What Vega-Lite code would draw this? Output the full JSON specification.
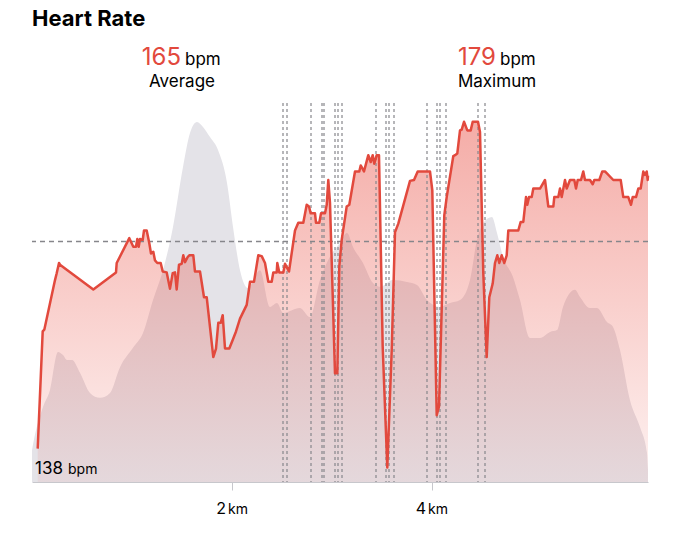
{
  "$schema": "https://vega.github.io/schema/vega-lite/v6.json",
  "width": 616,
  "height": 379,
  "autosize": {"type": "none"},
  "padding": {"top": 103, "left": 32, "right": 32, "bottom": 54},
  "background": "white",
  "title": {
    "text": "Heart Rate",
    "anchor": "start",
    "frame": "group",
    "font": "Inter",
    "fontSize": 22,
    "fontWeight": "bold",
    "color": "#000000",
    "offset": 15
  },
  "config": {"view": {"stroke": null}, "text": {"font": "Inter"}},
  "datasets": {
    "elev": [
      {"km": 0.0, "m": 8.4}, {"km": 0.013, "m": 10.3}, {"km": 0.11, "m": 19.8}, {"km": 0.18, "m": 24.3},
      {"km": 0.26, "m": 34.3}, {"km": 0.31, "m": 33.5}, {"km": 0.35, "m": 32.2}, {"km": 0.4, "m": 32.2},
      {"km": 0.48, "m": 28.8}, {"km": 0.58, "m": 23.5}, {"km": 0.68, "m": 22.2}, {"km": 0.78, "m": 23.5},
      {"km": 0.88, "m": 30.3}, {"km": 1.01, "m": 35.4}, {"km": 1.11, "m": 39.3}, {"km": 1.21, "m": 48.0},
      {"km": 1.31, "m": 55.9}, {"km": 1.41, "m": 67.3}, {"km": 1.51, "m": 83.1}, {"km": 1.58, "m": 92.1},
      {"km": 1.65, "m": 95.0}, {"km": 1.71, "m": 93.7}, {"km": 1.78, "m": 91.0}, {"km": 1.86, "m": 87.6},
      {"km": 1.95, "m": 78.9}, {"km": 2.01, "m": 67.3}, {"km": 2.08, "m": 55.9}, {"km": 2.16, "m": 51.2},
      {"km": 2.28, "m": 55.9}, {"km": 2.38, "m": 46.2}, {"km": 2.45, "m": 47.2}, {"km": 2.51, "m": 44.6},
      {"km": 2.68, "m": 45.9}, {"km": 2.78, "m": 43.5}, {"km": 2.88, "m": 53.3}, {"km": 2.98, "m": 59.4},
      {"km": 3.08, "m": 63.1}, {"km": 3.15, "m": 65.7}, {"km": 3.21, "m": 62.0}, {"km": 3.31, "m": 57.8},
      {"km": 3.41, "m": 52.5}, {"km": 3.48, "m": 51.5}, {"km": 3.61, "m": 53.3}, {"km": 3.75, "m": 52.8},
      {"km": 3.85, "m": 52.0}, {"km": 3.95, "m": 48.0}, {"km": 4.08, "m": 46.2}, {"km": 4.18, "m": 47.2},
      {"km": 4.28, "m": 48.0}, {"km": 4.38, "m": 53.3}, {"km": 4.45, "m": 63.9}, {"km": 4.51, "m": 68.3},
      {"km": 4.6, "m": 69.9}, {"km": 4.65, "m": 65.7}, {"km": 4.71, "m": 59.4}, {"km": 4.81, "m": 54.1},
      {"km": 4.88, "m": 48.0}, {"km": 4.98, "m": 38.0}, {"km": 5.08, "m": 38.0}, {"km": 5.18, "m": 39.6},
      {"km": 5.25, "m": 40.1}, {"km": 5.31, "m": 46.2}, {"km": 5.43, "m": 50.7}, {"km": 5.48, "m": 48.8},
      {"km": 5.58, "m": 45.9}, {"km": 5.65, "m": 45.9}, {"km": 5.75, "m": 42.2}, {"km": 5.81, "m": 40.9},
      {"km": 5.88, "m": 34.8}, {"km": 5.98, "m": 21.6}, {"km": 6.08, "m": 14.5}, {"km": 6.15, "m": 7.7},
      {"km": 6.16, "m": 3.2}
    ],
    "hr": [
      {"km": 0.057, "bpm": 140.8}, {"km": 0.107, "bpm": 154.5}, {"km": 0.123, "bpm": 154.7}, {"km": 0.23, "bpm": 160.5},
      {"km": 0.247, "bpm": 161.3}, {"km": 0.27, "bpm": 162.5}, {"km": 0.28, "bpm": 162.3}, {"km": 0.613, "bpm": 159.4},
      {"km": 0.84, "bpm": 161.4}, {"km": 0.847, "bpm": 162.5}, {"km": 0.973, "bpm": 165.4}, {"km": 1.013, "bpm": 164.4},
      {"km": 1.04, "bpm": 164.4}, {"km": 1.053, "bpm": 165.3}, {"km": 1.067, "bpm": 164.4}, {"km": 1.08, "bpm": 165.3},
      {"km": 1.107, "bpm": 165.2}, {"km": 1.12, "bpm": 166.3}, {"km": 1.147, "bpm": 166.3}, {"km": 1.173, "bpm": 164.8},
      {"km": 1.19, "bpm": 163.6}, {"km": 1.213, "bpm": 163.8}, {"km": 1.23, "bpm": 162.8}, {"km": 1.253, "bpm": 162.5},
      {"km": 1.287, "bpm": 162.5}, {"km": 1.307, "bpm": 161.5}, {"km": 1.347, "bpm": 161.4}, {"km": 1.38, "bpm": 159.5},
      {"km": 1.407, "bpm": 161.3}, {"km": 1.43, "bpm": 161.4}, {"km": 1.447, "bpm": 159.4}, {"km": 1.47, "bpm": 162.3},
      {"km": 1.497, "bpm": 162.4}, {"km": 1.513, "bpm": 163.4}, {"km": 1.53, "bpm": 162.6}, {"km": 1.557, "bpm": 163.2},
      {"km": 1.573, "bpm": 163.4}, {"km": 1.613, "bpm": 163.4}, {"km": 1.63, "bpm": 161.5}, {"km": 1.68, "bpm": 161.5},
      {"km": 1.72, "bpm": 158.5}, {"km": 1.747, "bpm": 158.5}, {"km": 1.813, "bpm": 151.5}, {"km": 1.84, "bpm": 152.5},
      {"km": 1.863, "bpm": 155.5}, {"km": 1.887, "bpm": 155.5}, {"km": 1.907, "bpm": 156.4}, {"km": 1.93, "bpm": 152.5},
      {"km": 1.973, "bpm": 152.5}, {"km": 2.007, "bpm": 153.5}, {"km": 2.04, "bpm": 154.5}, {"km": 2.08, "bpm": 156.0},
      {"km": 2.147, "bpm": 157.6}, {"km": 2.18, "bpm": 160.3}, {"km": 2.22, "bpm": 160.3}, {"km": 2.263, "bpm": 163.4},
      {"km": 2.297, "bpm": 163.3}, {"km": 2.33, "bpm": 162.5}, {"km": 2.363, "bpm": 160.3}, {"km": 2.397, "bpm": 160.3},
      {"km": 2.413, "bpm": 161.4}, {"km": 2.447, "bpm": 161.4}, {"km": 2.453, "bpm": 162.5}, {"km": 2.473, "bpm": 161.4},
      {"km": 2.513, "bpm": 161.4}, {"km": 2.53, "bpm": 162.4}, {"km": 2.57, "bpm": 161.5}, {"km": 2.63, "bpm": 166.3},
      {"km": 2.663, "bpm": 167.2}, {"km": 2.713, "bpm": 167.2}, {"km": 2.747, "bpm": 169.3}, {"km": 2.77, "bpm": 169.1},
      {"km": 2.787, "bpm": 168.3}, {"km": 2.83, "bpm": 168.3}, {"km": 2.84, "bpm": 167.2}, {"km": 2.873, "bpm": 167.2},
      {"km": 2.89, "bpm": 168.3}, {"km": 2.93, "bpm": 168.3}, {"km": 2.947, "bpm": 169.3}, {"km": 2.963, "bpm": 172.2},
      {"km": 2.98, "bpm": 169.5}, {"km": 3.03, "bpm": 149.6}, {"km": 3.053, "bpm": 149.6}, {"km": 3.073, "bpm": 162.1},
      {"km": 3.097, "bpm": 165.2}, {"km": 3.147, "bpm": 169.1}, {"km": 3.173, "bpm": 169.3}, {"km": 3.23, "bpm": 173.2},
      {"km": 3.273, "bpm": 173.2}, {"km": 3.287, "bpm": 173.9}, {"km": 3.32, "bpm": 173.2}, {"km": 3.363, "bpm": 175.1},
      {"km": 3.387, "bpm": 174.3}, {"km": 3.407, "bpm": 175.1}, {"km": 3.423, "bpm": 174.1}, {"km": 3.447, "bpm": 175.1},
      {"km": 3.47, "bpm": 175.1}, {"km": 3.507, "bpm": 152.7}, {"km": 3.553, "bpm": 138.6}, {"km": 3.597, "bpm": 152.3},
      {"km": 3.63, "bpm": 166.1}, {"km": 3.663, "bpm": 167.1}, {"km": 3.78, "bpm": 172.1}, {"km": 3.82, "bpm": 172.2},
      {"km": 3.857, "bpm": 173.2}, {"km": 3.98, "bpm": 173.2}, {"km": 4.003, "bpm": 171.0}, {"km": 4.047, "bpm": 144.7},
      {"km": 4.07, "bpm": 145.7}, {"km": 4.123, "bpm": 168.1}, {"km": 4.147, "bpm": 170.2}, {"km": 4.213, "bpm": 175.0},
      {"km": 4.23, "bpm": 175.1}, {"km": 4.253, "bpm": 175.3}, {"km": 4.28, "bpm": 178.0}, {"km": 4.297, "bpm": 178.1},
      {"km": 4.32, "bpm": 179.0}, {"km": 4.353, "bpm": 178.0}, {"km": 4.387, "bpm": 178.0}, {"km": 4.407, "bpm": 179.0},
      {"km": 4.46, "bpm": 179.0}, {"km": 4.48, "bpm": 177.8}, {"km": 4.513, "bpm": 161.3}, {"km": 4.547, "bpm": 151.5},
      {"km": 4.573, "bpm": 158.5}, {"km": 4.607, "bpm": 160.1}, {"km": 4.63, "bpm": 162.5}, {"km": 4.653, "bpm": 163.4},
      {"km": 4.673, "bpm": 162.5}, {"km": 4.697, "bpm": 163.4}, {"km": 4.723, "bpm": 162.5}, {"km": 4.747, "bpm": 163.4},
      {"km": 4.763, "bpm": 166.3}, {"km": 4.863, "bpm": 166.3}, {"km": 4.887, "bpm": 167.3}, {"km": 4.913, "bpm": 167.3},
      {"km": 4.94, "bpm": 170.2}, {"km": 4.953, "bpm": 169.3}, {"km": 4.97, "bpm": 170.2}, {"km": 4.997, "bpm": 170.2},
      {"km": 5.013, "bpm": 171.2}, {"km": 5.08, "bpm": 171.2}, {"km": 5.13, "bpm": 172.2}, {"km": 5.163, "bpm": 169.1},
      {"km": 5.213, "bpm": 169.1}, {"km": 5.223, "bpm": 170.2}, {"km": 5.263, "bpm": 170.2}, {"km": 5.28, "bpm": 171.2},
      {"km": 5.297, "bpm": 170.2}, {"km": 5.33, "bpm": 172.2}, {"km": 5.347, "bpm": 171.2}, {"km": 5.38, "bpm": 172.2},
      {"km": 5.423, "bpm": 172.2}, {"km": 5.44, "bpm": 171.2}, {"km": 5.457, "bpm": 172.2}, {"km": 5.49, "bpm": 172.2},
      {"km": 5.513, "bpm": 173.2}, {"km": 5.53, "bpm": 172.2}, {"km": 5.58, "bpm": 172.2}, {"km": 5.607, "bpm": 171.7},
      {"km": 5.623, "bpm": 172.2}, {"km": 5.673, "bpm": 172.2}, {"km": 5.703, "bpm": 173.2}, {"km": 5.73, "bpm": 173.2},
      {"km": 5.813, "bpm": 172.2}, {"km": 5.887, "bpm": 172.2}, {"km": 5.913, "bpm": 170.2}, {"km": 5.963, "bpm": 170.2},
      {"km": 5.99, "bpm": 169.3}, {"km": 6.007, "bpm": 170.2}, {"km": 6.04, "bpm": 170.2}, {"km": 6.063, "bpm": 171.2},
      {"km": 6.087, "bpm": 171.2}, {"km": 6.113, "bpm": 173.2}, {"km": 6.13, "bpm": 172.8}, {"km": 6.147, "bpm": 173.2},
      {"km": 6.157, "bpm": 172.2}, {"km": 6.16, "bpm": 172.7}
    ],
    "splits": [
      {"km": 2.51}, {"km": 2.55}, {"km": 2.79}, {"km": 2.9}, {"km": 2.92}, {"km": 3.03},
      {"km": 3.06}, {"km": 3.1}, {"km": 3.44}, {"km": 3.54}, {"km": 3.57}, {"km": 3.62},
      {"km": 3.95}, {"km": 4.05}, {"km": 4.08}, {"km": 4.14}, {"km": 4.46}, {"km": 4.53}
    ],
    "stats": [
      {"km": 1.5, "value": "165", "unit": "bpm", "label": "Average"},
      {"km": 4.65, "value": "179", "unit": "bpm", "label": "Maximum"}
    ],
    "ticks": [{"km": 2, "value": "2", "unit": "km"}, {"km": 4, "value": "4", "unit": "km"}],
    "minimum": [{"km": 0, "value": "138", "unit": "bpm"}]
  },
  "resolve": {"scale": {"y": "independent"}},
  "layer": [
    {
      "data": {"name": "elev"},
      "mark": {"type": "area", "interpolate": "monotone", "color": "#e4e3e8"},
      "encoding": {
        "x": {
          "field": "km",
          "type": "quantitative",
          "scale": {"domain": [0, 6.16], "nice": false, "zero": false},
          "axis": {
            "values": [2, 4],
            "labels": false,
            "title": null,
            "grid": false,
            "domainColor": "#c7c7cc",
            "tickColor": "#c7c7cc",
            "tickSize": 8,
            "domainWidth": 1
          }
        },
        "y": {
          "field": "m",
          "type": "quantitative",
          "scale": {"domain": [0, 100]},
          "axis": null
        }
      }
    },
    {
      "encoding": {
        "x": {"field": "km", "type": "quantitative"}
      },
      "layer": [
        {
          "data": {"name": "hr"},
          "mark": {
            "type": "area",
            "color": {
              "gradient": "linear",
              "x1": 0, "y1": 0, "x2": 0, "y2": 1,
              "stops": [
                {"offset": 0, "color": "rgba(232,72,60,0.45)"},
                {"offset": 1, "color": "rgba(232,72,60,0.07)"}
              ]
            }
          },
          "encoding": {
            "y": {
              "field": "bpm",
              "type": "quantitative",
              "scale": {"domain": [136.9, 181.2], "nice": false, "zero": false},
              "axis": null
            },
            "y2": {"datum": 136.9}
          }
        },
        {
          "data": {"name": "splits"},
          "mark": {"type": "rule", "color": "#86868b", "strokeDash": [3, 3], "strokeWidth": 1.2},
          "encoding": {}
        },
        {
          "data": {"values": [{}]},
          "mark": {"type": "rule", "color": "#bdbdc2", "strokeDash": [3, 3], "strokeWidth": 1},
          "encoding": {"x": {"datum": 0, "type": "quantitative"}}
        },
        {
          "data": {"values": [{}]},
          "mark": {"type": "rule", "color": "#86868b", "strokeDash": [5, 4], "strokeWidth": 1.5},
          "encoding": {"x": null, "y": {"datum": 165, "type": "quantitative"}}
        },
        {
          "data": {"name": "hr"},
          "mark": {"type": "line", "color": "#e2493d", "strokeWidth": 2.5, "strokeJoin": "round"},
          "encoding": {"y": {"field": "bpm", "type": "quantitative"}}
        },
        {
          "data": {"name": "stats"},
          "mark": {"type": "text", "align": "right", "baseline": "alphabetic", "fontSize": 24, "color": "#e2493d", "dx": -1},
          "encoding": {"y": {"datum": 185.64, "type": "quantitative"}, "text": {"field": "value"}}
        },
        {
          "data": {"name": "stats"},
          "mark": {"type": "text", "align": "left", "baseline": "alphabetic", "fontSize": 17, "color": "#000000", "dx": 3},
          "encoding": {"y": {"datum": 185.64, "type": "quantitative"}, "text": {"field": "unit"}}
        },
        {
          "data": {"name": "stats"},
          "mark": {"type": "text", "align": "center", "baseline": "alphabetic", "fontSize": 17, "color": "#000000"},
          "encoding": {"y": {"datum": 183.07, "type": "quantitative"}, "text": {"field": "label"}}
        },
        {
          "data": {"name": "ticks"},
          "mark": {"type": "text", "align": "right", "baseline": "alphabetic", "fontSize": 16, "color": "#000000", "dx": -6},
          "encoding": {"y": {"datum": 133.16, "type": "quantitative"}, "text": {"field": "value"}}
        },
        {
          "data": {"name": "ticks"},
          "mark": {"type": "text", "align": "left", "baseline": "alphabetic", "fontSize": 14, "color": "#000000", "dx": -4},
          "encoding": {"y": {"datum": 133.16, "type": "quantitative"}, "text": {"field": "unit"}}
        },
        {
          "data": {"name": "minimum"},
          "mark": {"type": "text", "align": "left", "baseline": "alphabetic", "fontSize": 17, "color": "#000000", "dx": 3},
          "encoding": {"y": {"datum": 137.83, "type": "quantitative"}, "text": {"field": "value"}}
        },
        {
          "data": {"name": "minimum"},
          "mark": {"type": "text", "align": "left", "baseline": "alphabetic", "fontSize": 14, "color": "#000000", "dx": 36},
          "encoding": {"y": {"datum": 137.83, "type": "quantitative"}, "text": {"field": "unit"}}
        }
      ]
    }
  ]
}
